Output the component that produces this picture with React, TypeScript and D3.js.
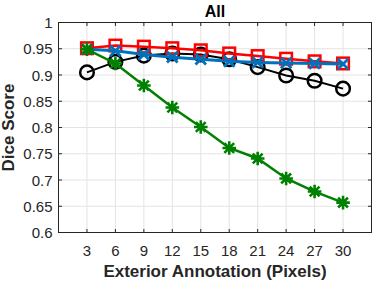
import React from 'react';
import * as d3 from 'd3';

// Exterior annotation width in pixels
const xValues = [3, 6, 9, 12, 15, 18, 21, 24, 27, 30];
const blackSeries = [0.905, 0.925, 0.937, 0.941, 0.939, 0.930, 0.915, 0.899, 0.889, 0.874];
const redSeries = [0.951, 0.956, 0.954, 0.951, 0.947, 0.941, 0.936, 0.931, 0.926, 0.922];
const blueSeries = [0.949, 0.946, 0.939, 0.934, 0.930, 0.926, 0.924, 0.923, 0.922, 0.921];
const greenSeries = [0.949, 0.922, 0.880, 0.838, 0.801, 0.761, 0.741, 0.703, 0.678, 0.657];
const yTicks = [0.6, 0.65, 0.7, 0.75, 0.8, 0.85, 0.9, 0.95, 1];

const width = 374;
const height = 282;
const margin = { top: 22.5, right: 2.5, bottom: 49.5, left: 58.5 };
const font = 'Liberation Sans, Arial, Helvetica, sans-serif';

const series = [
    { name: 'black', values: blackSeries, color: '#000000', lineWidth: 2, marker: 'circle' },
    { name: 'red', values: redSeries, color: '#ff0000', lineWidth: 2.5, marker: 'square' },
    { name: 'blue', values: blueSeries, color: '#0072bd', lineWidth: 3, marker: 'x' },
    { name: 'green', values: greenSeries, color: '#008000', lineWidth: 2.5, marker: 'star' },
];

const Marker = ({ type, x, y, color }) => {
    if (type === 'circle') {
        return <circle cx={x} cy={y} r={6.8} fill="none" stroke={color} strokeWidth={2.5} />;
    }
    if (type === 'square') {
        return <rect x={x - 5.8} y={y - 5.8} width={11.6} height={11.6} fill="none" stroke={color} strokeWidth={2.5} />;
    }
    if (type === 'x') {
        const s = 5.3;
        return (
            <path d={`M${x - s},${y - s}L${x + s},${y + s}M${x - s},${y + s}L${x + s},${y - s}`}
                stroke={color} strokeWidth={2.8} />
        );
    }
    // asterisk: plus + x
    const s = 6.8;
    const d = s * 0.72;
    return (
        <path d={`M${x - s},${y}L${x + s},${y}M${x},${y - s}L${x},${y + s}` +
            `M${x - d},${y - d}L${x + d},${y + d}M${x - d},${y + d}L${x + d},${y - d}`}
            stroke={color} strokeWidth={2.6} />
    );
};

const App = () => {
    const x = d3.scaleLinear().domain([0, 33]).range([margin.left, width - margin.right]);
    const y = d3.scaleLinear().domain([0.6, 1]).range([height - margin.bottom, margin.top]);

    const line = d3.line<number>()
        .x((d, i) => x(xValues[i]))
        .y(d => y(d));

    const x0 = x.range()[0], x1 = x.range()[1];
    const y0 = y.range()[0], y1 = y.range()[1];
    const axisColor = '#262626';
    const tickLen = 3.5;

    return (
        <svg width={width} height={height} style={{ position: 'absolute', left: 0, top: 0, background: '#fff' }}>
            {/* grid */}
            <g stroke="#e3e3e3" strokeWidth={1}>
                {xValues.map(v => <line key={'gx' + v} x1={x(v)} x2={x(v)} y1={y1} y2={y0} />)}
                {yTicks.map(v => <line key={'gy' + v} x1={x0} x2={x1} y1={y(v)} y2={y(v)} />)}
            </g>

            {/* series */}
            {series.map(s => (
                <g key={s.name}>
                    <path d={line(s.values)} fill="none" stroke={s.color} strokeWidth={s.lineWidth} />
                    {s.values.map((v, i) => (
                        <Marker key={i} type={s.marker} x={x(xValues[i])} y={y(v)} color={s.color} />
                    ))}
                </g>
            ))}

            {/* box and ticks */}
            <g stroke={axisColor} strokeWidth={1} fill="none">
                <rect x={x0} y={y1} width={x1 - x0} height={y0 - y1} />
                {xValues.map(v => (
                    <g key={'tx' + v}>
                        <line x1={x(v)} x2={x(v)} y1={y0} y2={y0 - tickLen} />
                        <line x1={x(v)} x2={x(v)} y1={y1} y2={y1 + tickLen} />
                    </g>
                ))}
                {yTicks.map(v => (
                    <g key={'ty' + v}>
                        <line x1={x0} x2={x0 + tickLen} y1={y(v)} y2={y(v)} />
                        <line x1={x1} x2={x1 - tickLen} y1={y(v)} y2={y(v)} />
                    </g>
                ))}
            </g>

            {/* tick labels */}
            <g fill={axisColor} fontFamily={font} fontSize={15}>
                {xValues.map(v => (
                    <text key={'lx' + v} x={x(v)} y={y0 + 23} textAnchor="middle">{v}</text>
                ))}
                {yTicks.map(v => (
                    <text key={'ly' + v} x={x0 - 6} y={y(v) + 5.5} textAnchor="end">{d3.format('~g')(v)}</text>
                ))}
            </g>

            {/* labels */}
            <text x={(x0 + x1) / 2} y={17} textAnchor="middle" fontFamily={font} fontSize={16}
                fontWeight="bold" fill="#000">All</text>
            <text x={(x0 + x1) / 2} y={277} textAnchor="middle" fontFamily={font} fontSize={17}
                fontWeight="bold" fill={axisColor}>Exterior Annotation (Pixels)</text>
            <text transform={`translate(13.5,${(y0 + y1) / 2}) rotate(-90)`} textAnchor="middle"
                fontFamily={font} fontSize={17} fontWeight="bold" fill={axisColor}>Dice Score</text>
        </svg>
    );
};

export default App;
